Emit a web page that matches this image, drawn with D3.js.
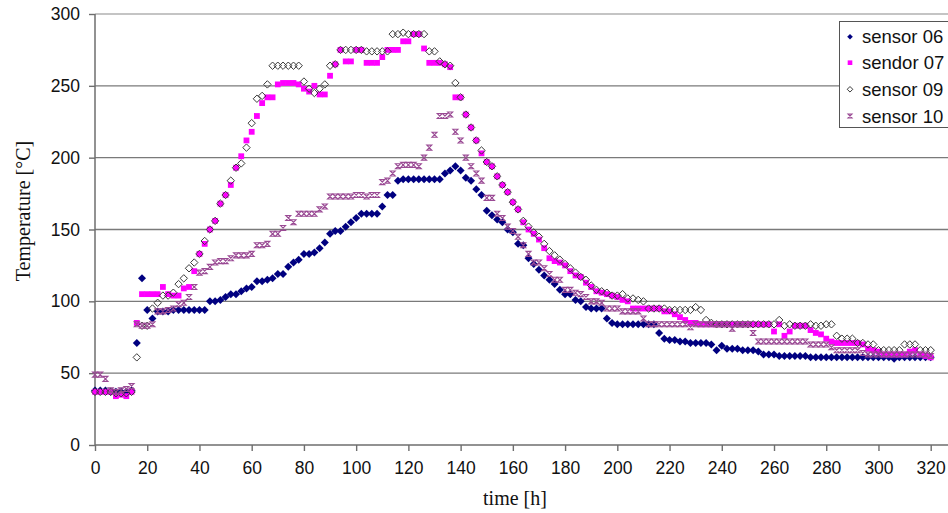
<!DOCTYPE html>
<html>
<head>
<meta charset="utf-8">
<script src="https://cdn.jsdelivr.net/npm/d3@7"></script>
<style>
  html, body { margin: 0; padding: 0; background: #fff; }
  svg { display: block; }
</style>
</head>
<body>
<svg id="chart" width="948" height="513"></svg>
<script>
// Sampling times [h]
const times = [0,2,4,6,8,10,12,14,16,18,20,22,24,26,28,30,32,34,36,38,40,42,44,46,48,50,52,54,56,58,60,62,64,66,68,70,72,74,76,78,80,82,84,86,88,90,92,94,96,98,100,102,104,106,108,110,112,114,116,118,120,122,124,126,128,130,132,134,136,138,140,142,144,146,148,150,152,154,156,158,160,162,164,166,168,170,172,174,176,178,180,182,184,186,188,190,192,194,196,198,200,202,204,206,208,210,212,214,216,218,220,222,224,226,228,230,232,234,236,238,240,242,244,246,248,250,252,254,256,258,260,262,264,266,268,270,272,274,276,278,280,282,284,286,288,290,292,294,296,298,300,302,304,306,308,310,312,314,316,318,320];

// Temperatures [°C] per sensor
const sensor06 = [38,38,38,37,37,37,37,38,71,116,94,88,93,93,93,94,94,94,94,94,94,94,100,100,101,103,105,105,107,109,110,114,114,115,116,119,119,124,127,129,133,133,134,137,141,147,149,149,152,155,158,161,161,161,161,166,174,174,184,185,185,185,185,185,185,185,185,189,191,194,191,186,184,178,174,163,160,157,155,150,148,140,139,130,126,122,118,115,112,108,105,105,101,100,96,95,95,95,88,85,84,84,84,84,84,84,84,84,78,74,73,73,72,72,71,71,71,71,70,66,69,67,67,67,66,66,66,65,63,63,63,62,62,62,62,62,62,61,61,61,61,61,61,61,61,61,61,61,61,61,61,61,61,60,61,61,61,61,61,61,61,61];
const sensor07 = [37,37,37,37,34,35,34,37,85,105,105,105,105,110,105,104,104,109,110,121,133,140,150,156,168,174,181,193,201,212,218,229,238,242,242,251,252,252,252,251,248,246,250,244,244,257,265,275,267,267,275,275,266,266,266,270,275,275,275,281,281,286,286,276,266,266,266,265,263,242,242,230,221,212,203,197,194,187,181,176,169,164,155,150,147,143,137,130,128,127,125,121,118,117,113,110,107,106,105,104,103,101,100,95,95,95,95,95,95,93,93,91,89,87,85,85,84,84,84,84,84,84,84,84,84,84,84,84,84,84,79,84,76,79,83,83,83,80,78,77,74,72,71,71,71,71,71,70,67,66,65,63,63,63,63,63,65,66,63,62,61];
const sensor09 = [37,37,37,37,36,36,36,37,61,83,83,95,99,104,104,106,112,116,123,127,133,142,150,156,168,174,184,193,196,207,224,241,243,251,264,264,264,264,264,264,253,248,245,248,251,264,265,275,275,275,275,275,274,274,274,274,274,286,286,287,286,286,286,286,274,274,267,265,264,252,242,230,221,212,205,197,194,187,181,176,169,164,156,152,148,145,140,135,132,129,126,123,120,117,115,111,108,107,106,104,104,105,102,102,101,100,95,95,95,95,94,94,94,94,94,96,94,87,85,84,84,84,84,84,84,84,84,84,84,84,84,87,83,84,83,83,83,84,83,83,84,84,76,74,74,74,71,71,70,70,66,66,66,66,66,70,70,70,66,66,66];
const sensor10 = [49,49,46,38,37,38,39,41,84,83,83,84,93,93,94,95,98,99,103,110,120,121,124,127,128,128,130,132,132,132,133,139,139,140,147,147,151,158,155,161,161,161,161,164,166,173,173,173,173,173,174,174,173,174,174,183,184,189,194,195,195,195,194,200,207,216,229,229,230,218,212,200,194,189,184,172,172,161,158,152,149,145,139,133,127,127,123,119,115,115,108,108,106,105,103,100,100,99,95,95,95,93,93,93,93,88,84,84,84,84,84,84,84,84,82,84,84,84,84,84,84,84,81,84,84,84,78,72,72,72,72,72,72,72,72,72,72,70,70,70,70,68,66,66,66,66,66,64,63,63,63,63,63,63,63,63,63,63,63,63,62];

const seriesNames = ["sensor 06", "sendor 07", "sensor 09", "sensor 10"];
const xTicks = [0,20,40,60,80,100,120,140,160,180,200,220,240,260,280,300,320];
const yTicks = [0,50,100,150,200,250,300];

// Marker shapes
const markerPaths = {
  diamond: r => `M0,${-r}L${r},0L0,${r}L${-r},0Z`,
  square: r => `M${-r},${-r}H${r}V${r}H${-r}Z`,
  hourglass: r => `M${-r},${-r}H${r}L${-r},${r}H${r}Z`
};
// Marker styles for each series, in drawing order
const styles = [
  { shape: "diamond", r: 4, fill: "#000080", stroke: "none", sw: 0 },
  { shape: "square", r: 2.9, fill: "#ff00ff", stroke: "none", sw: 0 },
  { shape: "diamond", r: 3.7, fill: "none", stroke: "#3a3a3a", sw: 1 },
  { shape: "hourglass", r: 2.5, fill: "none", stroke: "#9a4a94", sw: 1.1 }
];
const allSeries = [sensor06, sensor07, sensor09, sensor10];

const svg = d3.select("#chart");
const plot = { left: 95, right: 930.7, top: 14, bottom: 445, edge: 948 };

const x = d3.scaleLinear().domain([0, 320]).range([plot.left, plot.right]);
const y = d3.scaleLinear().domain([0, 300]).range([plot.bottom, plot.top]);

// Horizontal gridlines
svg.append("g")
  .selectAll("line")
  .data(yTicks.filter(v => v > 0))
  .join("line")
  .attr("x1", plot.left).attr("x2", plot.edge)
  .attr("y1", d => y(d)).attr("y2", d => y(d))
  .attr("stroke", d => d === 300 ? "#c4c4c4" : "#7a7a7a")
  .attr("stroke-width", d => d === 300 ? 2 : 1.4);

// Axes
const fontAxis = "'Liberation Sans', Arial, sans-serif";
const xAxis = svg.append("g")
  .attr("transform", `translate(0,${plot.bottom})`)
  .call(d3.axisBottom(x).tickValues(xTicks).tickSize(6).tickPadding(11));
const yAxis = svg.append("g")
  .attr("transform", `translate(${plot.left},0)`)
  .call(d3.axisLeft(y).tickValues(yTicks).tickSize(6).tickPadding(9));

[xAxis, yAxis].forEach(g => {
  g.select(".domain").remove();
  g.selectAll(".tick line").attr("stroke", "#6e6e6e").attr("stroke-width", 1.4);
  g.selectAll(".tick text")
    .attr("fill", "#111")
    .style("font-family", fontAxis)
    .style("font-size", "17.5px");
});

// Axis lines
svg.append("line")
  .attr("x1", plot.left).attr("x2", plot.edge)
  .attr("y1", plot.bottom).attr("y2", plot.bottom)
  .attr("stroke", "#6e6e6e").attr("stroke-width", 1.5);
svg.append("line")
  .attr("x1", plot.left).attr("x2", plot.left)
  .attr("y1", plot.top).attr("y2", plot.bottom)
  .attr("stroke", "#6e6e6e").attr("stroke-width", 1.5);

// Axis titles
const fontTitle = "'Liberation Serif', 'Times New Roman', serif";
svg.append("text")
  .attr("x", 515).attr("y", 505)
  .attr("text-anchor", "middle")
  .style("font-family", fontTitle).style("font-size", "20px")
  .attr("fill", "#111")
  .text("time [h]");
svg.append("text")
  .attr("transform", `translate(30,${211}) rotate(-90)`)
  .attr("text-anchor", "middle")
  .style("font-family", fontTitle).style("font-size", "20px")
  .attr("fill", "#111")
  .text("Temperature [°C]");

// Data markers
allSeries.forEach((vals, si) => {
  const st = styles[si];
  svg.append("g")
    .selectAll("path")
    .data(times.map((t, i) => ({ t, v: vals[i] })))
    .join("path")
    .attr("transform", d => `translate(${x(d.t)},${y(d.v)})`)
    .attr("d", markerPaths[st.shape](st.r))
    .attr("fill", st.fill)
    .attr("stroke", st.stroke)
    .attr("stroke-width", st.sw);
});

// Legend
const legend = svg.append("g");
legend.append("rect")
  .attr("x", 839.5).attr("y", 21.5)
  .attr("width", 130).attr("height", 106)
  .attr("fill", "#fff")
  .attr("stroke", "#555").attr("stroke-width", 1);
const legendRows = [36.7, 62.7, 89.3, 116];
const legendScale = [0.7, 0.8, 0.75, 0.8];
seriesNames.forEach((name, i) => {
  const st = styles[i];
  legend.append("path")
    .attr("transform", `translate(850,${legendRows[i]})`)
    .attr("d", markerPaths[st.shape](st.r * legendScale[i]))
    .attr("fill", st.fill)
    .attr("stroke", st.stroke)
    .attr("stroke-width", st.sw);
  legend.append("text")
    .attr("x", 862).attr("y", legendRows[i])
    .attr("dy", "0.36em")
    .style("font-family", fontAxis).style("font-size", "18.5px")
    .attr("fill", "#111")
    .text(name);
});
</script>
</body>
</html>
